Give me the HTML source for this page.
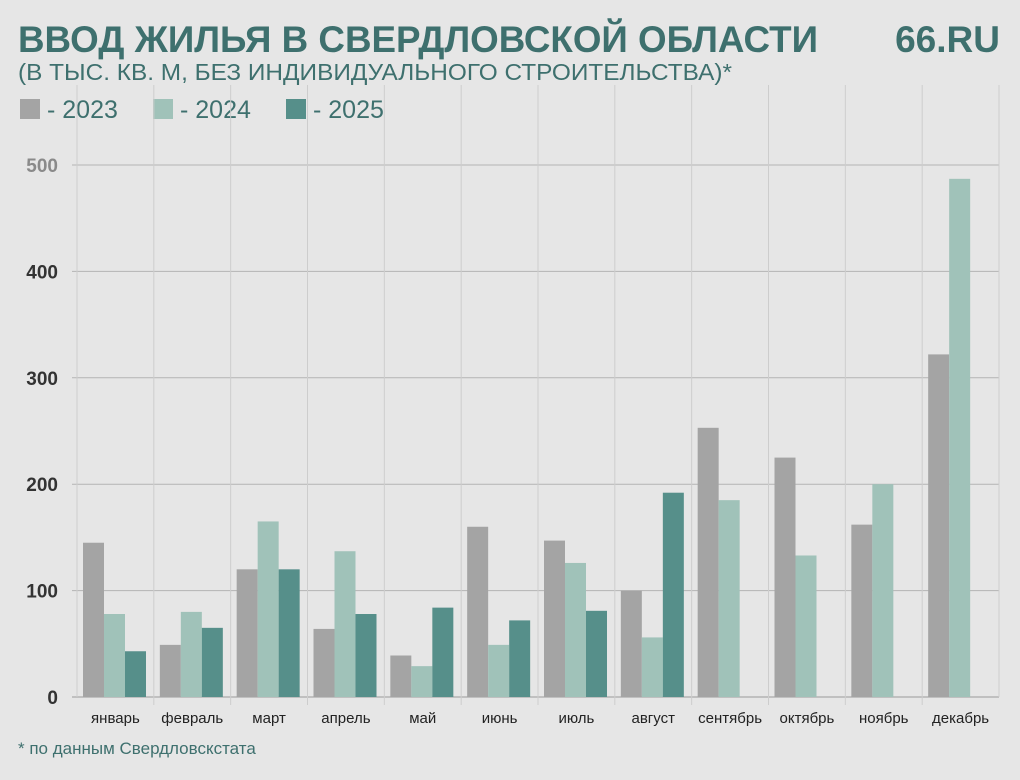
<!DOCTYPE html>
<html><head><meta charset="utf-8"><style>
body{margin:0;background:#e6e6e6;font-family:"Liberation Sans","DejaVu Sans",sans-serif;}
svg{display:block}
</style></head><body>
<svg width="1020" height="780" viewBox="0 0 1020 780">
<rect width="1020" height="780" fill="#e6e6e6"/>
<text x="18" y="52" font-size="37" font-weight="bold" fill="#3e706e" textLength="800" lengthAdjust="spacingAndGlyphs">ВВОД ЖИЛЬЯ В СВЕРДЛОВСКОЙ ОБЛАСТИ</text>
<text x="1000" y="52" text-anchor="end" font-size="37" font-weight="bold" fill="#3e706e">66.RU</text>
<text x="18" y="80" font-size="23" fill="#3e706e" textLength="714" lengthAdjust="spacingAndGlyphs">(В ТЫС. КВ. М, БЕЗ ИНДИВИДУАЛЬНОГО СТРОИТЕЛЬСТВА)*</text>
<g id="legend"></g>
<g id="grid"></g><g id="bars"></g><g id="labels"></g>
<text x="18" y="754" font-size="17" fill="#3e706e">* по данным Свердловскстата</text>
</svg>
<script>
const months=["январь","февраль","март","апрель","май","июнь","июль","август","сентябрь","октябрь","ноябрь","декабрь"];
const s2023=[145,49,120,64,39,160,147,100,253,225,162,322];
const s2024=[78,80,165,137,29,49,126,56,185,133,200,487];
const s2025=[43,65,120,78,84,72,81,192,null,null,null,null];
const yTicks=[0,100,200,300,400,500];
const seriesNames=["2023","2024","2025"];
const colors=["#a4a4a4","#a0c2b9","#568f8a"];
const NS="http://www.w3.org/2000/svg";
const x0=77,x1=999,y0=697,yTop=165;
const gw=(x1-x0)/months.length;
const y=v=>y0-(v/500)*(y0-yTop);
function mk(tag,attrs,parent){const e=document.createElementNS(NS,tag);for(const k in attrs)e.setAttribute(k,attrs[k]);parent.appendChild(e);return e;}
const grid=document.getElementById('grid'),bars=document.getElementById('bars'),labels=document.getElementById('labels'),legend=document.getElementById('legend');
seriesNames.forEach((n,i)=>{
 const lx=20+i*133;
 const r=mk('rect',{x:lx,y:99,width:20,height:20,fill:colors[i]},legend);
 
 
 const t=mk('text',{x:lx+27,y:118,'font-size':25,fill:'#3e706e'},legend);
 t.textContent='- '+n;
 
 
});
yTicks.forEach(v=>{
 const l=mk('line',{x1:72,x2:x1,y1:y(v),y2:y(v),stroke:v===0?'#999':'#b4b4b4','stroke-width':1},grid);
 
 
 const t=mk('text',{x:58,y:y(v)+7,'text-anchor':'end','font-size':19,'font-weight':'bold',fill:v===500?'#8a8a8a':'#333'},labels);
 t.textContent=v;
 
 
});
for(let i=0;i<=months.length;i++){
 const gx=x0+i*gw;
 const l=mk('line',{x1:gx,x2:gx,y1:85,y2:i===0||i===months.length?y0:y0+8,stroke:'#cdcdcd','stroke-width':1},grid);
 
 
}
const all=[s2023,s2024,s2025];
months.forEach((m,i)=>{
 const gx=x0+i*gw;
 all.forEach((s,j)=>{
  if(s[i]==null)return;
  const b=mk('rect',{x:gx+6+j*21,y:y(s[i]),width:21,height:y0-y(s[i]),fill:colors[j]},bars);
  
  
 });
 const t=mk('text',{x:gx+gw/2,y:723,'text-anchor':'middle','font-size':15,fill:'#222'},labels);
 t.textContent=m;
 
 
});
</script>
</body></html>
